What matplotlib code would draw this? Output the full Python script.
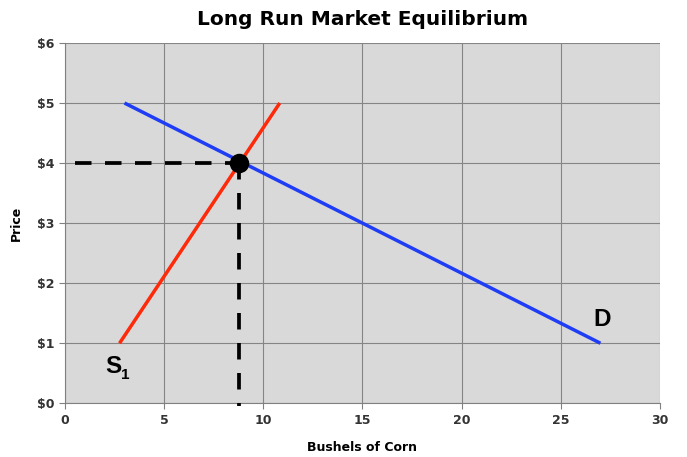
import matplotlib.pyplot as plt

# Data
supply_x = [2.75, 10.83]
supply_y = [1, 5]
demand_x = [3, 27]
demand_y = [5, 1]
eq_x, eq_y = 8.75, 4.0
x_ticks = [0, 5, 10, 15, 20, 25, 30]
y_ticks = [0, 1, 2, 3, 4, 5, 6]
y_labels = ['$0', '$1', '$2', '$3', '$4', '$5', '$6']

fig = plt.figure(figsize=(6.87, 4.57), dpi=100)
ax = fig.add_axes([0.0946, 0.1175, 0.866, 0.7885])
ax.set_facecolor('#d9d9d9')

ax.plot(demand_x, demand_y, color='#1f3df5', lw=2.5, solid_capstyle='butt', zorder=3)
ax.plot(supply_x, supply_y, color='#ff2a0a', lw=2.5, solid_capstyle='butt', zorder=3)

# equilibrium guides
ax.plot([0.5, eq_x], [eq_y, eq_y], color='black', lw=2.7, dashes=(4.4, 3.6), zorder=4)
ax.plot([eq_x, eq_x], [eq_y, -0.05], color='black', lw=2.7, dashes=(4.4, 3.6),
        zorder=4, clip_on=False)
ax.plot([eq_x], [eq_y], 'o', color='black', ms=13, zorder=5)

ax.text(2.45, 0.62, 'S', fontsize=17.5, fontweight='bold', family='Liberation Sans',
        ha='center', va='center')
ax.text(3.05, 0.47, '1', fontsize=11, fontweight='bold', family='Liberation Sans',
        ha='center', va='center')
ax.text(27.1, 1.4, 'D', fontsize=17.5, fontweight='bold', family='Liberation Sans',
        ha='center', va='center')

ax.set_xlim(0, 30)
ax.set_ylim(0, 6)
ax.set_xticks(x_ticks)
ax.set_yticks(y_ticks)
ax.set_yticklabels(y_labels)
ax.grid(True, color='#858585', lw=0.8)
ax.set_axisbelow(True)
for s in ['top', 'right']:
    ax.spines[s].set_visible(False)
for s in ['left', 'bottom']:
    ax.spines[s].set_color('#808080')
ax.tick_params(colors='#808080', length=4, labelcolor='#333333', labelsize=9)
for lab in ax.get_xticklabels() + ax.get_yticklabels():
    lab.set_fontweight('bold')

ax.set_xlabel('Bushels of Corn', fontsize=9, fontweight='bold', labelpad=10)
ax.set_ylabel('Price', fontsize=9, fontweight='bold', labelpad=10)
ax.set_title('Long Run Market Equilibrium', fontsize=14.5, fontweight='bold', pad=13)

fig.savefig('out.png', dpi=100)
